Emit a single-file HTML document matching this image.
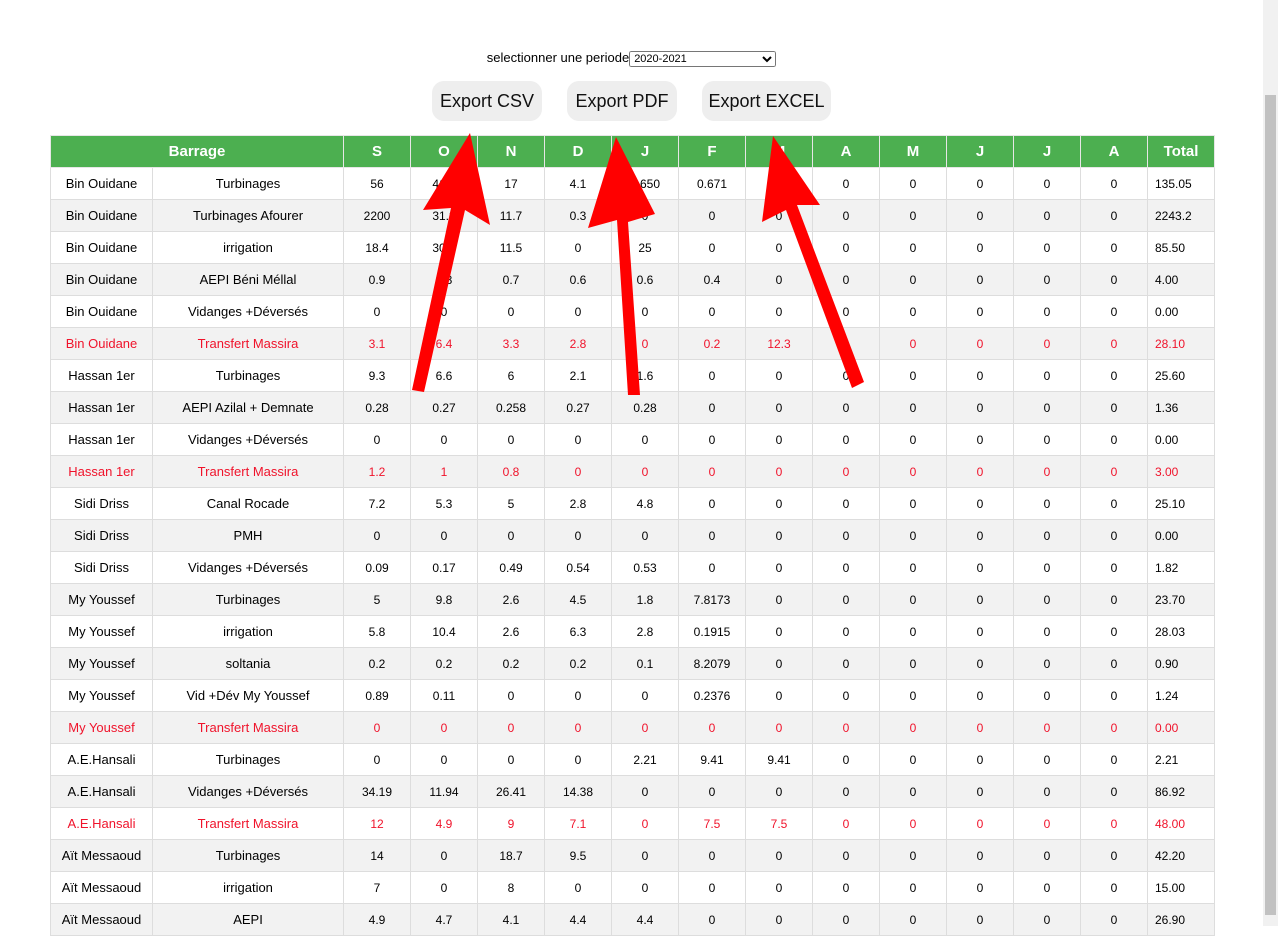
<!DOCTYPE html>
<html><head><meta charset="utf-8">
<style>
html,body{margin:0;padding:0;width:1278px;height:926px;overflow:hidden;background:#fff;font-family:"Liberation Sans",sans-serif;}
#top{position:absolute;left:0;top:50px;width:1263px;text-align:center;font-size:13px;color:#000;}
#top select{font-size:11px;width:147px;height:16px;vertical-align:middle;padding:0;}
.btn{position:absolute;top:81px;height:40px;background:#eee;border-radius:12px;font-size:18px;line-height:40px;text-align:center;color:#111;}
table{position:absolute;left:50px;top:135px;border-collapse:collapse;table-layout:fixed;font-size:13px;}
td,th{border:1px solid #ddd;height:31px;padding:0;text-align:center;white-space:nowrap;overflow:hidden;}
th{background:#4caf50;color:#fff;font-size:15px;font-weight:bold;border-color:#e6e6e6;}
tbody tr:nth-child(even){background:#f2f2f2;}
td.n{font-size:12px;}
td.t{text-align:left;padding-left:7px;font-size:12px;}
tr.red td{color:#f0132b;}
#sb{position:absolute;left:1263px;top:0;width:15px;height:926px;background:#f1f1f1;}
#thumb{position:absolute;left:2px;top:95px;width:11px;height:820px;background:#c1c1c1;}
</style></head><body>
<div id="top">selectionner une periode<select><option>2020-2021</option></select></div>
<div class="btn" style="left:432px;width:110px">Export CSV</div>
<div class="btn" style="left:567px;width:110px">Export PDF</div>
<div class="btn" style="left:702px;width:129px">Export EXCEL</div>
<table id="tbl">
<colgroup><col style="width:102px"><col style="width:191px"><col style="width:67px"><col style="width:67px"><col style="width:67px"><col style="width:67px"><col style="width:67px"><col style="width:67px"><col style="width:67px"><col style="width:67px"><col style="width:67px"><col style="width:67px"><col style="width:67px"><col style="width:67px"><col style="width:67px"></colgroup>
<thead><tr><th colspan="2">Barrage</th><th>S</th><th>O</th><th>N</th><th>D</th><th>J</th><th>F</th><th>M</th><th>A</th><th>M</th><th>J</th><th>J</th><th>A</th><th>Total</th></tr></thead>
<tbody id="tb"></tbody></table>
<div id="sb"><div id="thumb"></div></div>
<svg width="1278" height="926" style="position:absolute;left:0;top:0">
<g fill="#ff0000">
<polygon points="412,390 424,392 465,210 490,225 470,133 423,210 451,208"/>
<polygon points="628,395 640,395 628,222 655,214 616,137 588,228 617,220"/>
<polygon points="852,388 864,382 797,205 820,205 773,136 762,222 786,210"/>
</g></svg>
<script>
const rows=[
["Bin Ouidane","Turbinages",["56","41.1","17","4.1","0.650","0.671","15.3","0","0","0","0","0"],"135.05",0],
["Bin Ouidane","Turbinages Afourer",["2200","31.2","11.7","0.3","0","0","0","0","0","0","0","0"],"2243.2",0],
["Bin Ouidane","irrigation",["18.4","30.6","11.5","0","25","0","0","0","0","0","0","0"],"85.50",0],
["Bin Ouidane","AEPI Béni Méllal",["0.9","0.8","0.7","0.6","0.6","0.4","0","0","0","0","0","0"],"4.00",0],
["Bin Ouidane","Vidanges +Déversés",["0","0","0","0","0","0","0","0","0","0","0","0"],"0.00",0],
["Bin Ouidane","Transfert Massira",["3.1","6.4","3.3","2.8","0","0.2","12.3","0","0","0","0","0"],"28.10",1],
["Hassan 1er","Turbinages",["9.3","6.6","6","2.1","1.6","0","0","0","0","0","0","0"],"25.60",0],
["Hassan 1er","AEPI Azilal + Demnate",["0.28","0.27","0.258","0.27","0.28","0","0","0","0","0","0","0"],"1.36",0],
["Hassan 1er","Vidanges +Déversés",["0","0","0","0","0","0","0","0","0","0","0","0"],"0.00",0],
["Hassan 1er","Transfert Massira",["1.2","1","0.8","0","0","0","0","0","0","0","0","0"],"3.00",1],
["Sidi Driss","Canal Rocade",["7.2","5.3","5","2.8","4.8","0","0","0","0","0","0","0"],"25.10",0],
["Sidi Driss","PMH",["0","0","0","0","0","0","0","0","0","0","0","0"],"0.00",0],
["Sidi Driss","Vidanges +Déversés",["0.09","0.17","0.49","0.54","0.53","0","0","0","0","0","0","0"],"1.82",0],
["My Youssef","Turbinages",["5","9.8","2.6","4.5","1.8","7.8173","0","0","0","0","0","0"],"23.70",0],
["My Youssef","irrigation",["5.8","10.4","2.6","6.3","2.8","0.1915","0","0","0","0","0","0"],"28.03",0],
["My Youssef","soltania",["0.2","0.2","0.2","0.2","0.1","8.2079","0","0","0","0","0","0"],"0.90",0],
["My Youssef","Vid +Dév My Youssef",["0.89","0.11","0","0","0","0.2376","0","0","0","0","0","0"],"1.24",0],
["My Youssef","Transfert Massira",["0","0","0","0","0","0","0","0","0","0","0","0"],"0.00",1],
["A.E.Hansali","Turbinages",["0","0","0","0","2.21","9.41","9.41","0","0","0","0","0"],"2.21",0],
["A.E.Hansali","Vidanges +Déversés",["34.19","11.94","26.41","14.38","0","0","0","0","0","0","0","0"],"86.92",0],
["A.E.Hansali","Transfert Massira",["12","4.9","9","7.1","0","7.5","7.5","0","0","0","0","0"],"48.00",1],
["Aït Messaoud","Turbinages",["14","0","18.7","9.5","0","0","0","0","0","0","0","0"],"42.20",0],
["Aït Messaoud","irrigation",["7","0","8","0","0","0","0","0","0","0","0","0"],"15.00",0],
["Aït Messaoud","AEPI",["4.9","4.7","4.1","4.4","4.4","0","0","0","0","0","0","0"],"26.90",0]
];
const tb=document.getElementById('tb');
rows.forEach(r=>{
 const tr=document.createElement('tr');
 
 
 if(r[4])tr.className='red';
 let h='<td>'+r[0]+'</td><td>'+r[1]+'</td>';
 r[2].forEach(v=>{h+='<td class="n">'+v+'</td>';});
 h+='<td class="t">'+r[3]+'</td>';
 tr.innerHTML=h;
 tb.appendChild(tr);
});
</script>
</body></html>
